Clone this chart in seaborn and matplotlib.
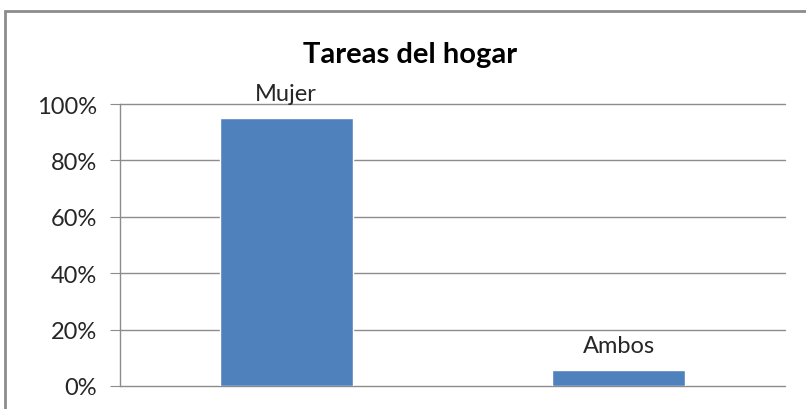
import matplotlib
matplotlib.use("Agg")
import matplotlib.pyplot as plt
import matplotlib.ticker as mtick
from matplotlib.patches import Rectangle
import pandas as pd
import seaborn as sns

categorias = ["Mujer", "Ambos"]
porcentajes = [0.95, 0.057]
yticks = [0, 0.2, 0.4, 0.6, 0.8, 1.0]

sns.set_style("white")
plt.rcParams['font.family'] = ['Lato', 'DejaVu Sans']

df = pd.DataFrame({"categoria": categorias, "valor": porcentajes})

fig = plt.figure(figsize=(8.06, 4.10), dpi=100)
ax = fig.add_axes([120 / 806, 23 / 410, 665 / 806, 282 / 410])

sns.barplot(data=df, x="categoria", y="valor", color="#4f81bd", width=0.4,
            saturation=1, ax=ax, zorder=3)

ax.set_ylim(0, 1.0)
ax.set_xlim(-0.5, 1.5)
ax.set_yticks(yticks)
ax.yaxis.set_major_formatter(mtick.PercentFormatter(1.0, decimals=0))
ax.yaxis.grid(True, color="#8c8c8c", linewidth=1)
for gl in ax.get_ygridlines():
    gl.set_clip_on(False)
ax.set_axisbelow(True)
ax.tick_params(axis="y", length=7, color="#8c8c8c", labelsize=17, labelcolor="#262626", pad=9.5, left=True)
ax.tick_params(axis="x", bottom=False, labelbottom=False)
ax.set_xlabel("")
ax.set_ylabel("")
for side in ["top", "right", "bottom"]:
    ax.spines[side].set_visible(False)
ax.spines["left"].set_color("#8c8c8c")
ax.spines["left"].set_linewidth(1)

# etiquetas sobre las barras
for i, (cat, val) in enumerate(zip(categorias, porcentajes)):
    ax.annotate(cat, (i, val), xytext=(0, 13), textcoords="offset points",
                ha="center", va="baseline", fontsize=17, color="#262626")

fig.text(410 / 806, 1 - 63 / 410, "Tareas del hogar", ha="center", va="baseline",
         fontsize=21, fontweight="bold", color="black")

# borde del grafico
fig.patches.append(Rectangle((5 / 806, -0.1), 1.0, 1 - 12 / 410 + 0.1, transform=fig.transFigure,
                             fill=False, edgecolor="#8c8c8c", linewidth=2))

fig.savefig("out.png", dpi=100)
